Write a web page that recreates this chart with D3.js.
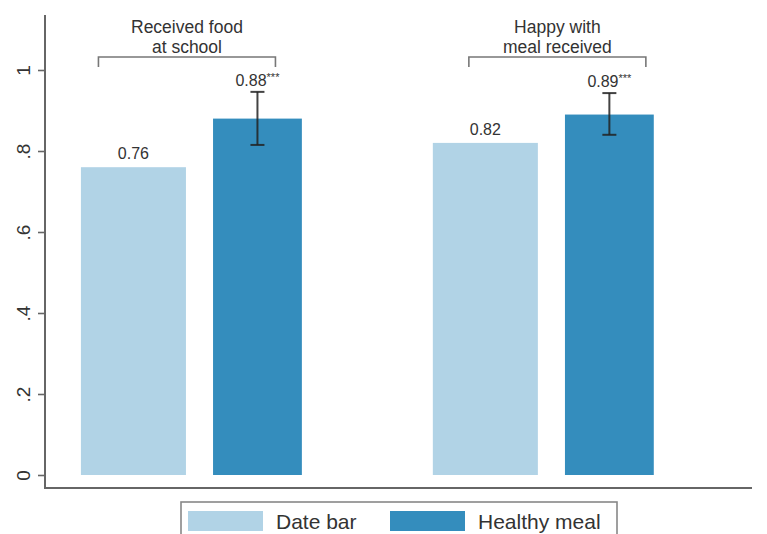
<!DOCTYPE html>
<html><head><meta charset="utf-8">
<script src="https://cdn.jsdelivr.net/npm/d3@7"></script>
<style>
html,body{margin:0;padding:0;background:#fff;}
svg text{font-family:"Liberation Sans",Arial,sans-serif;fill:#333;}
</style></head>
<body>
<svg id="c" width="767" height="534"></svg>
<script>
// ---- data ----
const groups = ["Received food\nat school", "Happy with\nmeal received"];
const series = ["Date bar", "Healthy meal"];
const dateBar = [0.76, 0.82];
const healthyMeal = [0.88, 0.89];
const healthyLow = [0.815, 0.84];
const healthyHigh = [0.946, 0.943];
const dateLabels = ["0.76", "0.82"];
const healthyLabels = ["0.88", "0.89"];
const healthyStars = ["***", "***"];
const yTicks = [0, 0.2, 0.4, 0.6, 0.8, 1];
const yTickLabels = ["0", ".2", ".4", ".6", ".8", "1"];
const colors = ["#b1d3e6", "#348dbd"];

// ---- layout ----
const L = {left:45, right:752, zeroY:475, oneY:70, axisY:488, topY:15,
  seriesOffset:[0, 0.595], seriesWidth:[0.473, 0.40], bracketShift:[-5, 13.5], bracketHalf:88.5};

const svg = d3.select("#c");
const y = d3.scaleLinear().domain([0, 1]).range([L.zeroY, L.oneY]);
const x = d3.scaleBand().domain(groups).range([L.left, L.right])
  .paddingInner(0.369).paddingOuter(0.189).align(0.27);
const bw = x.bandwidth();
const values = [dateBar, healthyMeal];

// bars
series.forEach((s, si) => {
  svg.append("g").selectAll("rect").data(groups).join("rect")
    .attr("x", g => x(g) + L.seriesOffset[si]*bw)
    .attr("width", L.seriesWidth[si]*bw)
    .attr("y", (g,i) => y(values[si][i]))
    .attr("height", (g,i) => y(0) - y(values[si][i]))
    .attr("fill", colors[si]);
});
const cx = (g, si) => x(g) + (L.seriesOffset[si] + L.seriesWidth[si]/2)*bw;

// error bars
const eg = svg.append("g").attr("stroke", "#222").attr("stroke-width", 2).attr("stroke-opacity", 0.85);
groups.forEach((g, i) => {
  const c = cx(g, 1);
  eg.append("line").attr("x1", c).attr("x2", c).attr("y1", y(healthyLow[i])).attr("y2", y(healthyHigh[i]));
  eg.append("line").attr("x1", c-7).attr("x2", c+7).attr("y1", y(healthyLow[i])).attr("y2", y(healthyLow[i]));
  eg.append("line").attr("x1", c-7).attr("x2", c+7).attr("y1", y(healthyHigh[i])).attr("y2", y(healthyHigh[i]));
});

// value labels
groups.forEach((g, i) => {
  svg.append("text").attr("x", cx(g,0)).attr("y", y(dateBar[i]) - 8)
    .attr("text-anchor", "middle").attr("font-size", 16).text(dateLabels[i]);
  const t = svg.append("text").attr("x", cx(g,1)).attr("y", y(healthyHigh[i]) - 6)
    .attr("text-anchor", "middle").attr("font-size", 16);
  t.append("tspan").text(healthyLabels[i]);
  t.append("tspan").attr("font-size", 11).attr("dy", -5).text(healthyStars[i]);
});

// brackets and group labels
groups.forEach((g, i) => {
  const c = x(g) + bw/2 + L.bracketShift[i];
  svg.append("path")
    .attr("d", `M${c-L.bracketHalf},67V57H${c+L.bracketHalf}V67`)
    .attr("fill", "none").attr("stroke", "#777").attr("stroke-width", 1.6);
  g.split("\n").forEach((ln, k) => {
    svg.append("text").attr("x", c).attr("y", 33 + k*19.5)
      .attr("text-anchor", "middle").attr("font-size", 17.5).text(ln);
  });
});

// y axis
const yAxis = d3.axisLeft(y).tickValues(yTicks).tickFormat((d,i) => yTickLabels[i]).tickSize(7).tickPadding(0);
const ya = svg.append("g").attr("transform", `translate(${L.left},0)`).call(yAxis);
ya.select(".domain").remove();
ya.selectAll(".tick line").attr("stroke", "#666").attr("stroke-width", 1.6);
ya.selectAll(".tick text").attr("font-size", 19).attr("fill", "#333")
  .attr("text-anchor", "middle").attr("x", 0).attr("dy", 0)
  .attr("transform", "translate(-22,0) rotate(-90)").attr("dominant-baseline", "central");
ya.attr("font-family", null);

svg.append("path").attr("d", `M${L.left},${L.topY}V${L.axisY}H${L.right}`)
  .attr("fill", "none").attr("stroke", "#666").attr("stroke-width", 2);

// legend
const lg = svg.append("g");
lg.append("rect").attr("x", 181).attr("y", 502).attr("width", 436).attr("height", 50)
  .attr("fill", "#fff").attr("stroke", "#888").attr("stroke-width", 1.6);
const legX = [188, 390];
series.forEach((s, si) => {
  lg.append("rect").attr("x", legX[si]).attr("y", 511).attr("width", 75).attr("height", 20).attr("fill", colors[si]);
  lg.append("text").attr("x", legX[si] + 88).attr("y", 529).attr("font-size", 21).text(s);
});
</script>
</body></html>
